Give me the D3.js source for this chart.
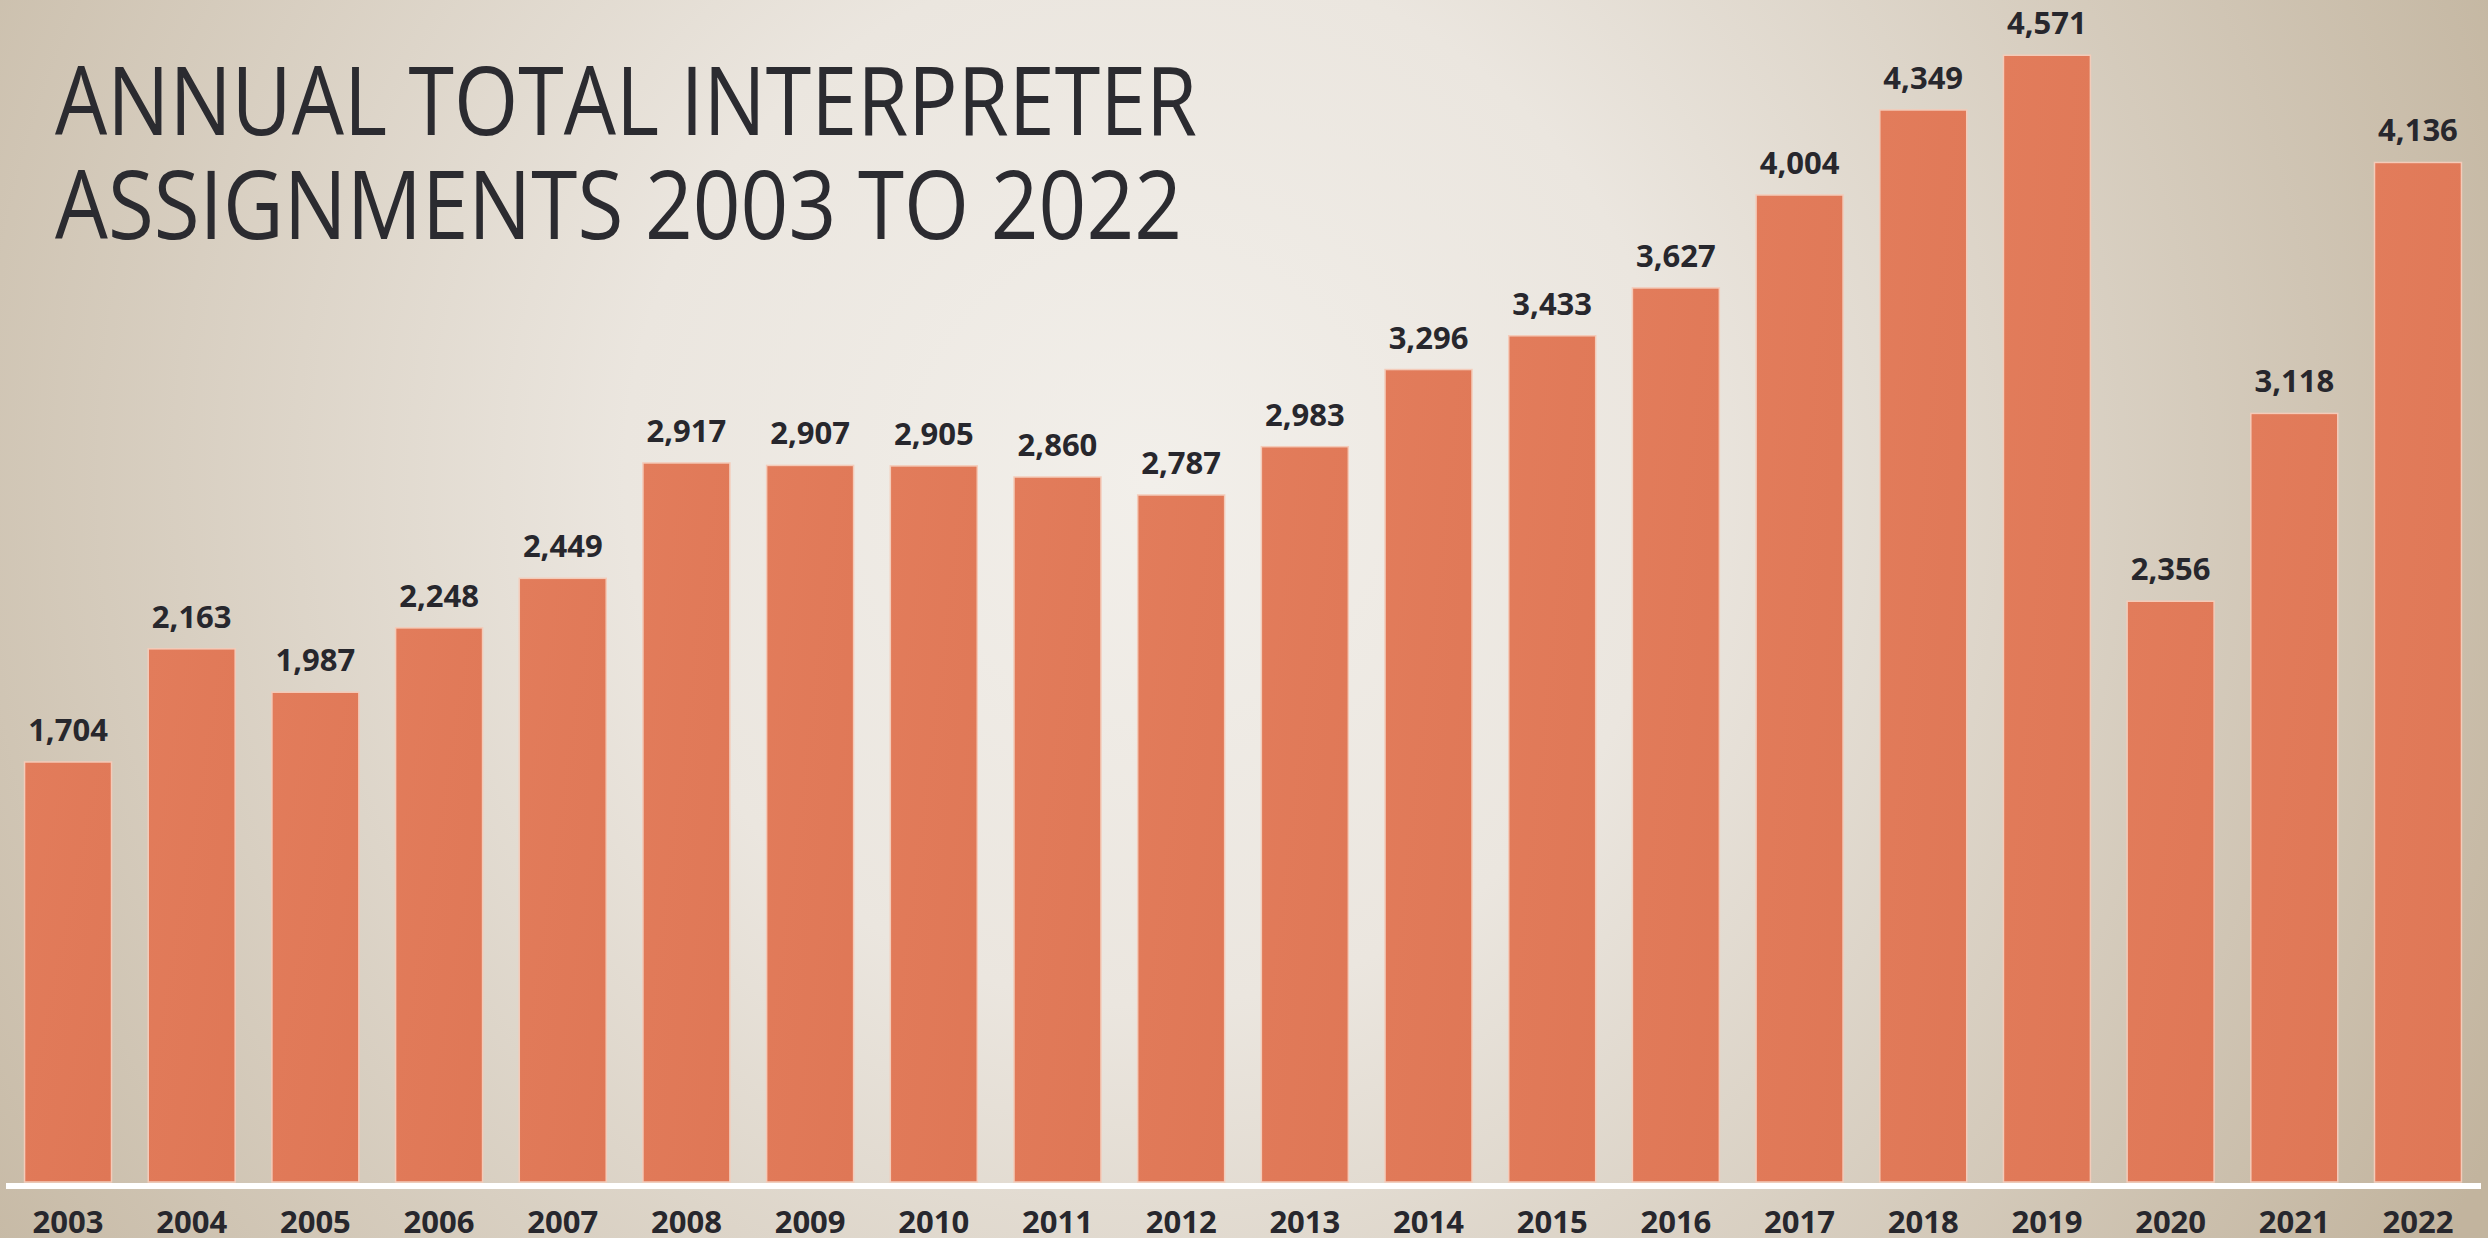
<!DOCTYPE html>
<html>
<head>
<meta charset="utf-8">
<script src="https://cdn.jsdelivr.net/npm/d3@7"></script>
<style>
  html, body { margin: 0; padding: 0; overflow: hidden; }
  svg { display: block; }
</style>
</head>
<body>
<svg id="chart" width="2488" height="1238"></svg>
<script>
const years = ["2003","2004","2005","2006","2007","2008","2009","2010","2011","2012",
               "2013","2014","2015","2016","2017","2018","2019","2020","2021","2022"];
const assignments = [1704, 2163, 1987, 2248, 2449, 2917, 2907, 2905, 2860, 2787,
                     2983, 3296, 3433, 3627, 4004, 4349, 4571, 2356, 3118, 4136];
const titleLines = ["ANNUAL TOTAL INTERPRETER", "ASSIGNMENTS 2003 TO 2022"];

const W = 2488, H = 1238;
const svg = d3.select("#chart");
const defs = svg.append("defs");

const bg = defs.append("radialGradient").attr("id", "bg")
  .attr("gradientUnits", "userSpaceOnUse")
  .attr("cx", 1150).attr("cy", 480).attr("r", 1500);
bg.append("stop").attr("offset", "0").attr("stop-color", "#f2efea");
bg.append("stop").attr("offset", "0.35").attr("stop-color", "#ebe6df");
bg.append("stop").attr("offset", "1").attr("stop-color", "#c2b49e");

const barGrad = defs.append("linearGradient").attr("id", "barg")
  .attr("x1", 0).attr("y1", 0).attr("x2", 1).attr("y2", 1);
barGrad.append("stop").attr("offset", "0").attr("stop-color", "#e27c5b");
barGrad.append("stop").attr("offset", "1").attr("stop-color", "#df7756");

svg.append("rect").attr("width", W).attr("height", H).attr("fill", "url(#bg)");

const baseY = 1182;
const x = d3.scaleBand().domain(years).range([6, 2480])
  .paddingInner(0.297).paddingOuter(0.15);
const y = d3.scaleLinear().domain([0, 5000]).range([baseY, baseY - 1232.5]);

const g = svg.append("g");

g.selectAll("rect.bar").data(assignments).join("rect")
  .attr("class", "bar")
  .attr("x", (d, i) => x(years[i]))
  .attr("y", d => y(d))
  .attr("width", x.bandwidth())
  .attr("height", d => y(0) - y(d))
  .attr("fill", "url(#barg)")
  .attr("stroke", "#f4cbb9")
  .attr("stroke-width", 1.5);

const fmt = d3.format(",");
g.selectAll("text.val").data(assignments).join("text")
  .attr("class", "val")
  .attr("x", (d, i) => x(years[i]) + x.bandwidth() / 2)
  .attr("y", d => y(d) - 21)
  .attr("text-anchor", "middle")
  .attr("font-family", "'Open Sans', 'Noto Sans', sans-serif")
  .attr("font-weight", 700)
  .attr("font-size", 31)
  .attr("fill", "#27272d")
  .text(d => fmt(d));

// axis baseline
const xAxis = d3.axisBottom(x).tickSize(0).tickPadding(0);
const axG = svg.append("g").attr("transform", `translate(0,${baseY + 4})`).call(xAxis);
axG.select(".domain").attr("stroke", "#ffffff").attr("stroke-width", 6)
  .attr("d", `M6,0H2481`);
axG.selectAll(".tick text")
  .attr("dy", null)
  .attr("y", 47)
  .attr("font-family", "'Open Sans', 'Noto Sans', sans-serif")
  .attr("font-weight", 700)
  .attr("font-size", 31)
  .attr("fill", "#27272d");

// title
const title = svg.append("g");
title.selectAll("text").data(titleLines).join("text")
  .attr("x", 55)
  .attr("y", (d, i) => 135 + i * 104)
  .attr("font-family", "'Open Sans', Lato, sans-serif")
  .attr("font-weight", 400)
  .attr("font-size", 96)
  .attr("fill", "#2b2b30")
  .attr("textLength", (d, i) => i === 0 ? 1142 : 1127)
  .attr("lengthAdjust", "spacingAndGlyphs")
  .text(d => d);
</script>
</body>
</html>
